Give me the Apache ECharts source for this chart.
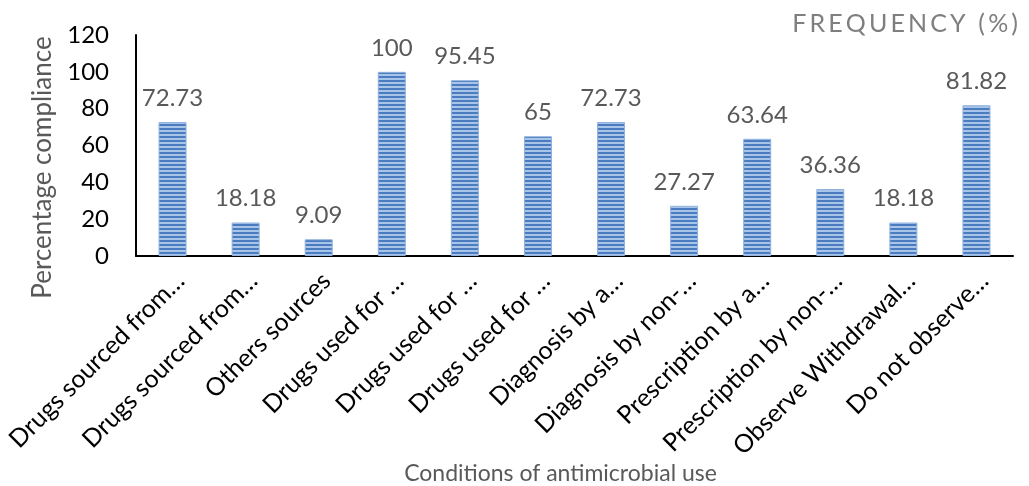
<!DOCTYPE html>
<html>
<head>
<meta charset="utf-8">
<script src="https://cdn.jsdelivr.net/npm/echarts@6/dist/echarts.min.js"></script>
<style>html,body{margin:0;padding:0;background:#fff}#c{width:1029px;height:486px}</style>
</head>
<body>
<div id="c"></div>
<script>
const categories = [
  "Drugs sourced from…",
  "Drugs sourced from…",
  "Others sources",
  "Drugs used for …",
  "Drugs used for …",
  "Drugs used for …",
  "Diagnosis by a…",
  "Diagnosis by non-…",
  "Prescription by a…",
  "Prescription by non-…",
  "Observe Withdrawal…",
  "Do not observe…"
];
const values = [72.73, 18.18, 9.09, 100, 95.45, 65, 72.73, 27.27, 63.64, 36.36, 18.18, 81.82];
const valueLabels = ["72.73", "18.18", "9.09", "100", "95.45", "65", "72.73", "27.27", "63.64", "36.36", "18.18", "81.82"];
const yTicks = [0, 20, 40, 60, 80, 100, 120];
const titleText = "FREQUENCY (%)";

const pat = document.createElement('canvas');
pat.width = 4; pat.height = 4;
const pc = pat.getContext('2d');
pc.fillStyle = '#a8c4e8'; pc.fillRect(0, 0, 4, 4);
pc.fillStyle = '#4a7cbf'; pc.fillRect(0, 0, 4, 2);

const spaced = titleText.split('').join('\u200A\u200A');

const chart = echarts.init(document.getElementById('c'));
chart.setOption({
  animation: false,
  backgroundColor: '#fff',
  title: {
    text: spaced,
    right: 6, top: 6,
    textStyle: { fontFamily: 'Lato', fontSize: 25, fontWeight: 'normal', color: '#7f7f7f' }
  },
  grid: { left: 136, right: 16, top: 35, bottom: 230, containLabel: false, outerBoundsMode: 'none' },
  xAxis: {
    type: 'category',
    data: categories,
    name: 'Conditions of antimicrobial use',
    nameLocation: 'middle',
    nameGap: 196,
    nameTextStyle: { fontFamily: 'Lato', fontSize: 23, color: '#595959', padding: [0, 28, 0, 0] },
    axisLine: { lineStyle: { color: '#000', width: 2 } },
    axisTick: { show: false },
    axisLabel: {
      interval: 0, rotate: 45, margin: 13,
      formatter: v => '{a|' + v + '}',
      rich: { a: { fontFamily: 'Lato', fontSize: 25, color: '#000', padding: [22, 0, 0, 0] } }
    }
  },
  yAxis: {
    type: 'value',
    min: yTicks[0], max: yTicks[yTicks.length - 1], interval: 20,
    name: 'Percentage compliance',
    nameLocation: 'middle',
    nameGap: 80,
    nameTextStyle: { fontFamily: 'Lato', fontSize: 26, color: '#595959', padding: [0, 44, 0, 0] },
    axisLine: { show: true, lineStyle: { color: '#000', width: 2 } },
    axisTick: { show: false },
    splitLine: { show: false },
    axisLabel: { fontFamily: 'Lato', fontSize: 24, color: '#000', margin: 27 }
  },
  series: [{
    type: 'bar',
    data: values,
    barWidth: 28,
    itemStyle: { color: { image: pat, repeat: 'repeat' }, borderColor: '#8fb1dd', borderWidth: 1 },
    label: {
      show: true, position: 'top', distance: 12,
      fontFamily: 'Lato', fontSize: 24, color: '#595959',
      formatter: p => valueLabels[p.dataIndex]
    }
  }]
});
</script>
</body>
</html>
